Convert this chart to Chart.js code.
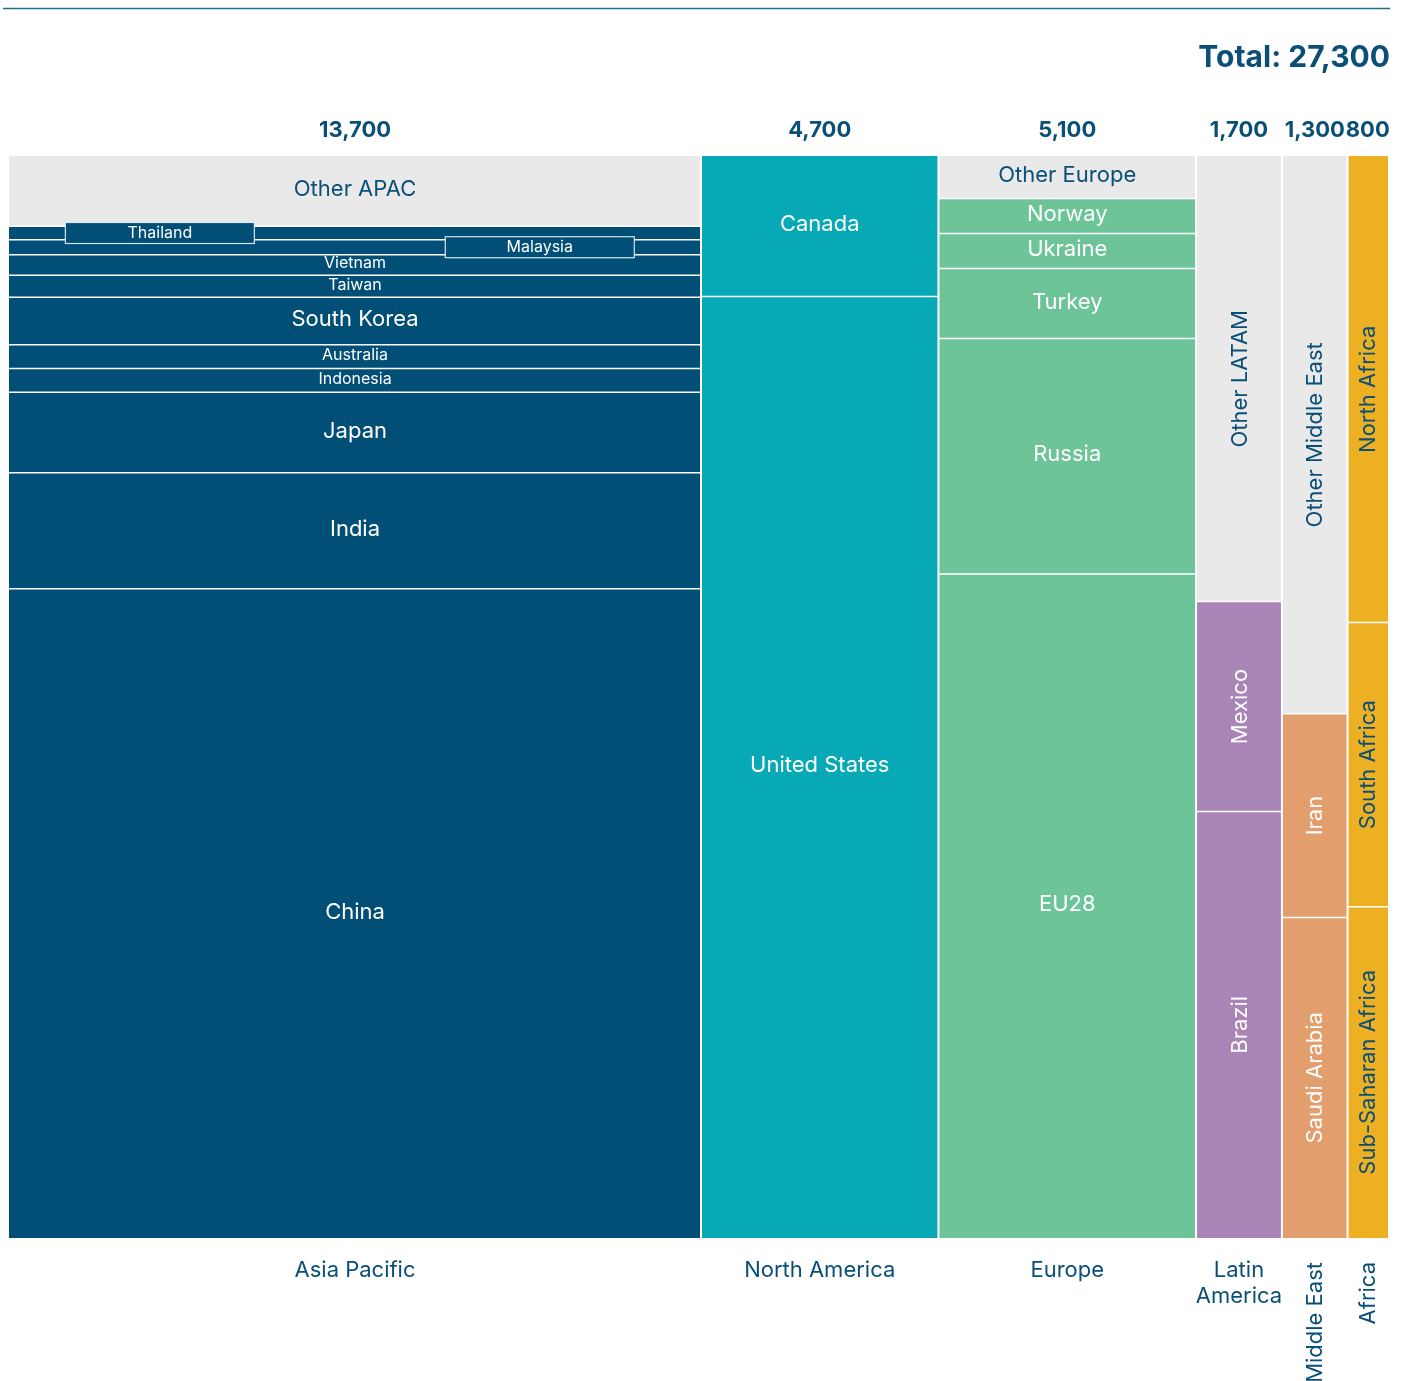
<!DOCTYPE html>
<html>
<head>
<meta charset="utf-8">
<title>Regional breakdown</title>
<script src="https://cdn.jsdelivr.net/npm/chart.js@4/dist/chart.umd.min.js"></script>
<style>
  html, body { margin: 0; padding: 0; background: #ffffff; }
  #wrap { position: relative; width: 1408px; height: 1381px; }
</style>
</head>
<body>
<div id="wrap"><canvas id="mekko"></canvas></div>
<script>
// Regions left to right, countries within each region listed top to bottom
const regionLabels = ['Asia Pacific', 'North America', 'Europe', 'Latin America', 'Middle East', 'Africa'];

const apacCountries = ['Other APAC', 'Thailand', 'Malaysia', 'Vietnam', 'Taiwan', 'South Korea', 'Australia', 'Indonesia', 'Japan', 'India', 'China'];
const apacValues = [890, 170, 190, 260, 280, 600, 300, 300, 1020, 1470, 8220];

const naCountries = ['Canada', 'United States'];
const naValues = [610, 4090];

const europeCountries = ['Other Europe', 'Norway', 'Ukraine', 'Turkey', 'Russia', 'EU28'];
const europeValues = [200, 165, 165, 330, 1110, 3130];

const latamCountries = ['Other LATAM', 'Mexico', 'Brazil'];
const latamValues = [700, 330, 670];

const meCountries = ['Other Middle East', 'Iran', 'Saudi Arabia'];
const meValues = [670, 245, 385];

const africaCountries = ['North Africa', 'South Africa', 'Sub-Saharan Africa'];
const africaValues = [345, 210, 245];

const regionColors = ['#014f77', '#06a9b5', '#6dc499', '#a984b7', '#e39e6e', '#edb022'];
const otherColor = '#e9e9e9';
const darkText = '#0a4f78';
const FONT = 'Inter, "Noto Sans", sans-serif';

const columns = [
    { names: apacCountries, values: apacValues },
    { names: naCountries, values: naValues },
    { names: europeCountries, values: europeValues },
    { names: latamCountries, values: latamValues },
    { names: meCountries, values: meValues },
    { names: africaCountries, values: africaValues }
];

const sum = arr => arr.reduce((a, b) => a + b, 0);
const columnTotals = columns.map(c => sum(c.values));
const grandTotal = sum(columnTotals);
const fmt = n => n.toLocaleString('en-US');

// Segments too thin for their label get a small callout box, placed alternately across the column
const calloutSpots = [0.218, 0.767];

const mekkoPlugin = {
    id: 'mekko',
    afterDatasetsDraw(chart) {
        const { ctx, chartArea, scales: { x, y } } = chart;
        ctx.save();

        // thin rule across the top
        ctx.strokeStyle = '#236b91';
        ctx.lineWidth = 1.5;
        ctx.beginPath();
        ctx.moveTo(3, 8.5);
        ctx.lineTo(1390, 8.5);
        ctx.stroke();

        ctx.fillStyle = darkText;
        ctx.font = `700 30px ${FONT}`;
        ctx.textAlign = 'right';
        ctx.textBaseline = 'middle';
        ctx.fillText('Total: ' + fmt(grandTotal), 1390, chartArea.top - 98);

        let start = 0;
        const rects = [];
        columns.forEach((col, i) => {
            const total = columnTotals[i];
            const left = x.getPixelForValue(start);
            const right = x.getPixelForValue(start + total);
            let acc = 0;
            col.values.forEach((v, j) => {
                const top = y.getPixelForValue(acc / total);
                const bottom = y.getPixelForValue((acc + v) / total);
                const isOther = col.names[j].startsWith('Other');
                ctx.fillStyle = isOther ? otherColor : regionColors[i];
                ctx.fillRect(left, top, right - left, bottom - top);
                rects.push({ col: i, name: col.names[j], left, right, top, bottom, isOther });
                acc += v;
            });
            start += total;
        });

        // white separators between segments and columns
        ctx.strokeStyle = '#ffffff';
        ctx.lineWidth = 1.5;
        rects.forEach(r => {
            if (r.top > chartArea.top + 1) {
                ctx.beginPath();
                ctx.moveTo(r.left, r.top);
                ctx.lineTo(r.right, r.top);
                ctx.stroke();
            }
        });
        ctx.lineWidth = 2;
        start = 0;
        columnTotals.slice(0, -1).forEach(t => {
            start += t;
            const px = x.getPixelForValue(start);
            ctx.beginPath();
            ctx.moveTo(px, chartArea.top);
            ctx.lineTo(px, chartArea.bottom);
            ctx.stroke();
        });

        // segment labels
        let calloutIdx = 0;
        rects.forEach(r => {
            const w = r.right - r.left;
            const h = r.bottom - r.top;
            const cx = (r.left + r.right) / 2;
            const cy = (r.top + r.bottom) / 2;
            const textColor = (r.isOther || r.col === 5) ? darkText : '#ffffff';
            ctx.textAlign = 'center';
            ctx.textBaseline = 'middle';
            if (w < 120) {
                ctx.save();
                ctx.translate(cx, cy);
                ctx.rotate(-Math.PI / 2);
                ctx.fillStyle = textColor;
                ctx.font = `400 22px ${FONT}`;
                ctx.fillText(r.name, 0, 1);
                ctx.restore();
                return;
            }
            if (h < 17) {
                const bx = r.left + w * calloutSpots[calloutIdx % calloutSpots.length];
                calloutIdx++;
                const bw = 189, bh = 21;
                ctx.fillStyle = regionColors[r.col];
                ctx.fillRect(bx - bw / 2, cy - bh / 2, bw, bh);
                ctx.strokeStyle = 'rgba(225, 235, 242, 0.95)';
                ctx.lineWidth = 1.2;
                ctx.strokeRect(bx - bw / 2, cy - bh / 2, bw, bh);
                ctx.fillStyle = textColor;
                ctx.font = `400 16px ${FONT}`;
                ctx.fillText(r.name, bx, cy);
                return;
            }
            ctx.fillStyle = textColor;
            ctx.font = h < 30 ? `400 16px ${FONT}` : `400 22px ${FONT}`;
            ctx.fillText(r.name, cx, cy - 1.5);
        });

        // column totals above, region names below
        start = 0;
        columnTotals.forEach((t, i) => {
            const left = x.getPixelForValue(start);
            const right = x.getPixelForValue(start + t);
            const cx = (left + right) / 2;
            const w = right - left;
            start += t;

            ctx.fillStyle = darkText;
            ctx.textAlign = 'center';
            ctx.textBaseline = 'middle';
            ctx.font = `700 22px ${FONT}`;
            ctx.fillText(fmt(t), cx, chartArea.top - 26);

            ctx.font = `400 22px ${FONT}`;
            const label = regionLabels[i];
            if (w < 75) {
                ctx.save();
                ctx.translate(cx, chartArea.bottom + 24);
                ctx.rotate(-Math.PI / 2);
                ctx.textAlign = 'right';
                ctx.fillText(label, 0, 1);
                ctx.restore();
            } else if (ctx.measureText(label).width > w) {
                label.split(' ').forEach((word, k) => {
                    ctx.fillText(word, cx, chartArea.bottom + 32 + k * 26);
                });
            } else {
                ctx.fillText(label, cx, chartArea.bottom + 32);
            }
        });

        ctx.restore();
    }
};

new Chart(document.getElementById('mekko').getContext('2d'), {
    type: 'scatter',
    data: { datasets: [] },
    options: {
        responsive: true,
        maintainAspectRatio: false,
        animation: false,
        layout: {
            padding: { left: 9, right: 20, top: 156, bottom: 143 }
        },
        plugins: {
            legend: { display: false },
            tooltip: { enabled: false }
        },
        scales: {
            x: { type: 'linear', min: 0, max: grandTotal, display: false },
            y: { type: 'linear', min: 0, max: 1, reverse: true, display: false }
        }
    },
    plugins: [mekkoPlugin]
});
</script>
</body>
</html>
